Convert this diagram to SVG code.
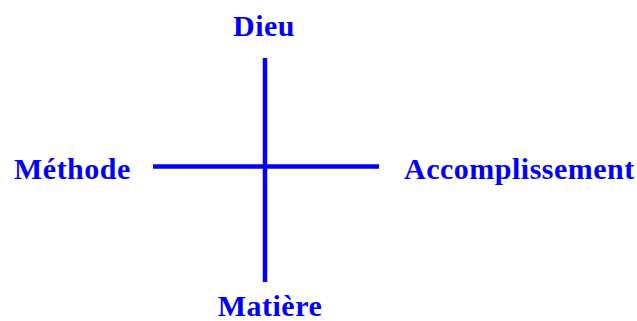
<svg xmlns="http://www.w3.org/2000/svg" width="637" height="321" viewBox="0 0 637 321">
<style>
.lbl{font-family:"Liberation Serif","Times New Roman",serif;font-weight:bold;font-size:30px;letter-spacing:0.5px;fill:#0000ff}
.ln{stroke:#0000ff;stroke-width:4.5;fill:none}
</style>
<rect width="637" height="321" fill="#ffffff"/>
<g id="connectors">
<line class="ln" x1="265" y1="58" x2="265" y2="282"/>
<line class="ln" x1="153" y1="166.5" x2="379" y2="166.5"/>
</g>
<g id="dieu"><text class="lbl" x="264" y="36" text-anchor="middle">Dieu</text></g>
<g id="methode"><text class="lbl" x="14" y="179">Méthode</text></g>
<g id="accomplissement"><text class="lbl" x="404" y="179">Accomplissement</text></g>
<g id="matiere"><text class="lbl" x="270" y="316" text-anchor="middle">Matière</text></g>
</svg>
